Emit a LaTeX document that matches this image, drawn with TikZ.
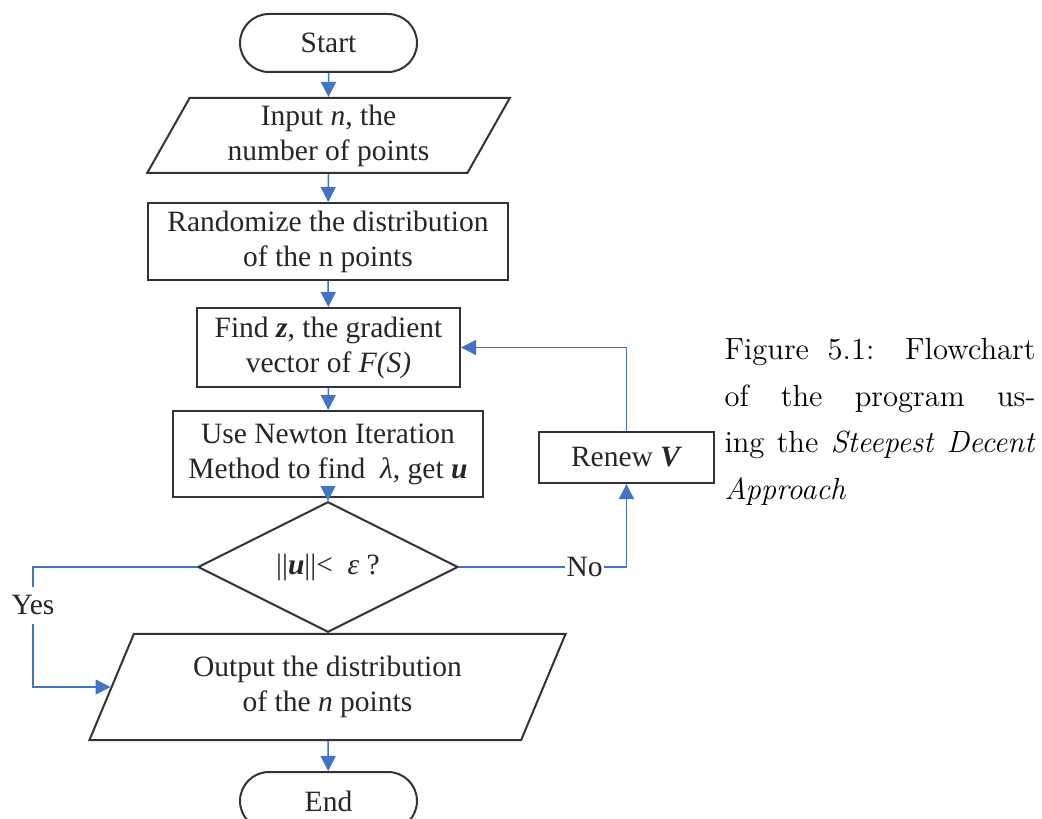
\documentclass[tikz,border=0pt]{standalone}
\usepackage{fontspec}
\newfontfamily\tnr{Liberation Serif}
\usepackage{tikz}
\usetikzlibrary{shapes,arrows.meta}
\usepackage{xcolor}
\definecolor{flowblue}{RGB}{68,114,196}

\begin{document}
\begin{tikzpicture}[x=0.4pt, y=-0.4pt, every node/.style={font=\tnr\fontsize{11.8}{14}\selectfont, text=black!85}]
    % Styles for the chart
    \tikzstyle{term}=[rounded rectangle, draw=black!80, thick, inner sep=0pt, minimum width=70.8pt, minimum height=23.2pt]
    \tikzstyle{proc}=[rectangle, draw=black!80, thick, inner sep=0pt, align=center]
    \tikzstyle{io}=[trapezium, trapezium left angle=63.5, trapezium right angle=116.5, trapezium stretches=true, draw=black!80, thick, inner sep=0pt, align=center]
    \tikzstyle{decide}=[diamond, draw=black!80, thick, inner sep=0pt, minimum width=104pt, minimum height=33.6pt]
    \tikzstyle{flow}=[draw=flowblue, semithick, -{Triangle[width=6pt, length=6pt]}]
    \tikzstyle{lbl}=[fill=white, inner xsep=0.5pt, inner ysep=0pt, minimum height=15pt]

    \useasboundingbox (0,0) rectangle (1042,819);

    % Main column
    \node[term] (st) at (328.5,43) {Start};
    \node[io, minimum width=145.2pt, minimum height=30pt] (inpt) at (328.5,135.5) {Input \textit{n}, the\\number of points};
    \node[proc, minimum width=144pt, minimum height=30.8pt] (rnd) at (328,241.5) {Randomize the distribution\\of the n points};
    \node[proc, minimum width=105.2pt, minimum height=31.6pt] (fnd) at (328.5,347.5) {Find \textbf{\textit{z}}, the gradient\\vector of \textit{F(S)}};
    \node[proc, minimum width=124pt, minimum height=34.4pt] (nwt) at (328,454) {Use Newton Iteration\\Method to find \ \textit{λ}, get \textbf{\textit{u}}};
    \node[decide] (dec) at (328,567) {||\textbf{\textit{u}}||< \ \textit{ε} ?};
    \node[io, minimum width=190.8pt, minimum height=42.4pt] (outp) at (327.5,687) {Output the distribution\\of the \textit{n} points};
    \node[term] (en) at (328.5,801) {End};

    % Loop box on the right
    \node[proc, minimum width=70pt, minimum height=20.4pt] (rnw) at (626.5,457.5) {Renew \textbf{\textit{V}}};
    \coordinate (ycorner) at (33,567);

    % Caption
    \node[anchor=north west, text width=124.4pt, align=justify, inner sep=0pt, text=black,
          font=\fontsize{12.25}{18.6}\selectfont] (cap) at (724,338)
        {Figure 5.1: Flowchart\linebreak of the program us-\linebreak ing the \textit{Steepest Decent}\linebreak \textit{Approach}};

    % Connectors
    \draw[flow] (st) -- (inpt);
    \draw[flow] (inpt) -- (rnd);
    \draw[flow] (rnd) -- (fnd);
    \draw[flow] (fnd) -- (nwt);
    \draw[flow] (nwt) -- (dec);
    \draw[flow] (outp) -- (en);
    \draw[flow] (dec.east) -| node[lbl, pos=0.375] {No} (rnw.south);
    \draw[flow] (rnw.north) |- (fnd.east);
    \draw[flow] (dec.west) -- (ycorner) |- node[lbl, pos=0.16] {Yes} (outp.west);
\end{tikzpicture}
\end{document}
